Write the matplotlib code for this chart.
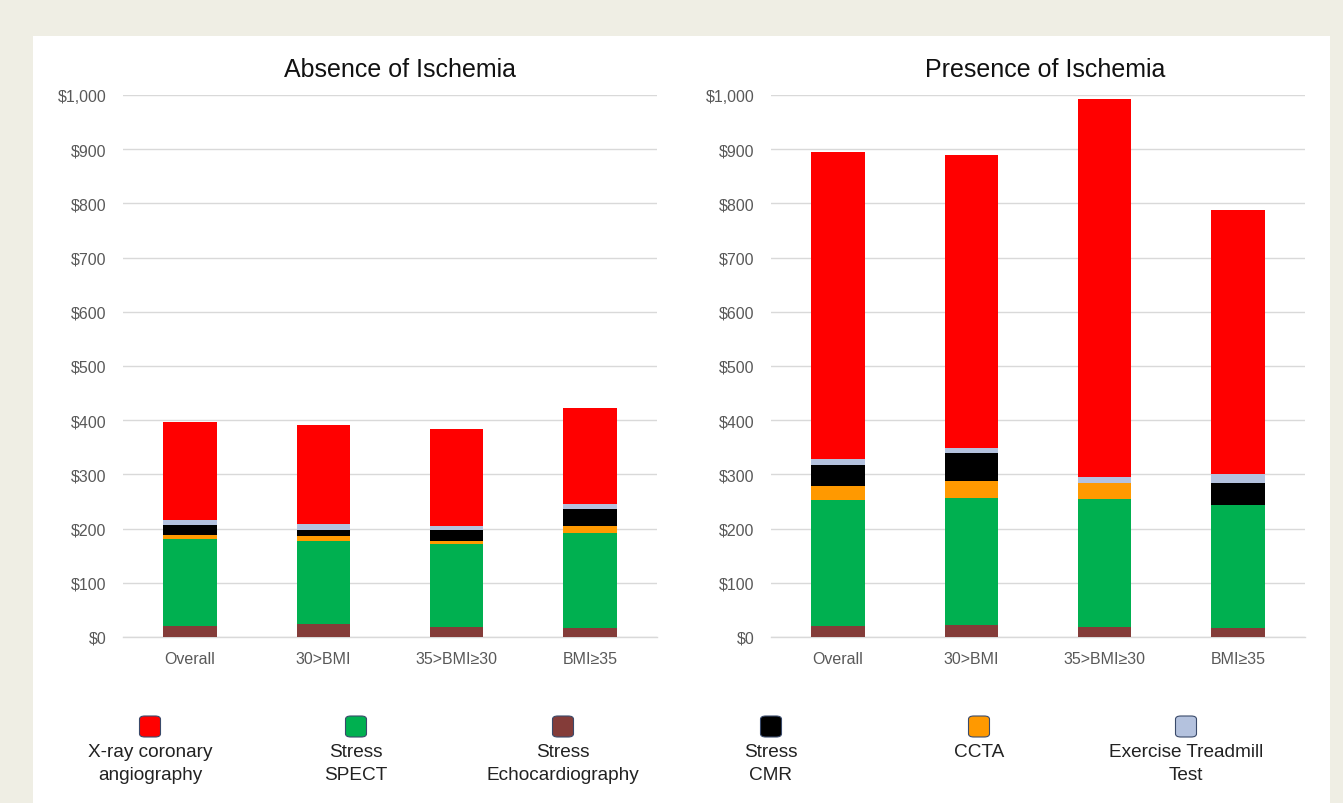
import matplotlib
matplotlib.use("Agg")
import matplotlib.pyplot as plt
from matplotlib.patches import Rectangle, FancyBboxPatch
from matplotlib.ticker import FuncFormatter
import numpy as np

plt.rcParams['font.family'] = ['Liberation Sans', 'DejaVu Sans']

categories = ["Overall", "30>BMI", "35>BMI\u226530", "BMI\u226535"]
tests = ["Stress\nEchocardiography", "Stress\nSPECT", "CCTA", "Stress\nCMR",
         "Exercise Treadmill\nTest", "X-ray coronary\nangiography"]
colors = ["#843c39", "#00b050", "#ff9900", "#000000", "#b4c2de", "#ff0000"]

# Cost per patient (USD), stacked bottom to top in the order of `tests`
absence_echo = [21, 24, 18, 17]
absence_spect = [159, 154, 153, 174]
absence_ccta = [8, 9, 6, 13]
absence_cmr = [19, 10, 21, 33]
absence_ett = [9, 11, 6, 9]
absence_angio = [180, 183, 180, 176]

presence_echo = [21, 23, 19, 17]
presence_spect = [232, 233, 236, 227]
presence_ccta = [25, 31, 29, 0]
presence_cmr = [39, 52, 0, 40]
presence_ett = [11, 9, 12, 16]
presence_angio = [567, 541, 697, 488]

absence = [absence_echo, absence_spect, absence_ccta, absence_cmr, absence_ett, absence_angio]
presence = [presence_echo, presence_spect, presence_ccta, presence_cmr, presence_ett, presence_angio]

W, H = 1343, 804
fig = plt.figure(figsize=(W / 100, H / 100), dpi=100)
fig.patch.set_facecolor("#efeee4")
fig.patches.append(Rectangle((33 / W, 0), (1330 - 33) / W, 1 - 37 / H,
                             transform=fig.transFigure, facecolor="white",
                             edgecolor="none", zorder=-10))

ax_bottom = 1 - 638 / H
ax_height = (638 - 96) / H
panels = [
    (123.3, "Absence of Ischemia", absence, 0.5 + 10 / 533.3),
    (771.3, "Presence of Ischemia", presence, 0.5 + 7 / 533.3),
]

money = FuncFormatter(lambda v, p: "${:,.0f}".format(v))
x = np.arange(len(categories))

for left_px, title, series, tx in panels:
    ax = fig.add_axes([left_px / W, ax_bottom, 533.3 / W, ax_height])
    ax.set_zorder(1)
    ax.set_facecolor("none")
    bottom = np.zeros(len(categories))
    for vals, col in zip(series, colors):
        ax.bar(x, vals, width=0.4, bottom=bottom, color=col, zorder=3,
               linewidth=0)
        bottom += np.array(vals)
    ax.set_xlim(-0.5, len(categories) - 0.5)
    ax.set_ylim(0, 1000)
    ax.set_yticks(np.arange(0, 1001, 100))
    ax.yaxis.set_major_formatter(money)
    ax.set_xticks(x)
    ax.set_xticklabels(categories)
    ax.grid(axis="y", color="#d9d9d9", linewidth=1.0, zorder=0)
    for s in ax.spines.values():
        s.set_visible(False)
    ax.spines["bottom"].set_visible(True)
    ax.spines["bottom"].set_color("#d9d9d9")
    ax.spines["bottom"].set_linewidth(1.0)
    ax.tick_params(axis="both", length=0, labelsize=11.5, labelcolor="#595959")
    ax.tick_params(axis="y", pad=12)
    ax.tick_params(axis="x", pad=10)
    ax.set_title(title, fontsize=18, color="#111111", pad=14, x=tx)

# Legend row: rounded swatches with two-line captions
legend_x = [150, 356, 563, 771, 979, 1186]
legend_order = [5, 1, 0, 3, 2, 4]
sw = 21
for px, idx in zip(legend_x, legend_order):
    col = colors[idx]
    fig.patches.append(FancyBboxPatch(((px - sw / 2) / W, 1 - 738 / H), sw / W, sw / H,
                                      boxstyle="round,pad=0,rounding_size=0.004",
                                      transform=fig.transFigure, facecolor=col,
                                      edgecolor="#3a4a6a", linewidth=0.8, zorder=2))
    fig.text(px / W, 1 - 744 / H, tests[idx], ha="center", va="top",
             fontsize=13.7, color="#222222", linespacing=1.45)

fig.savefig("out.png", dpi=100, facecolor=fig.get_facecolor())
